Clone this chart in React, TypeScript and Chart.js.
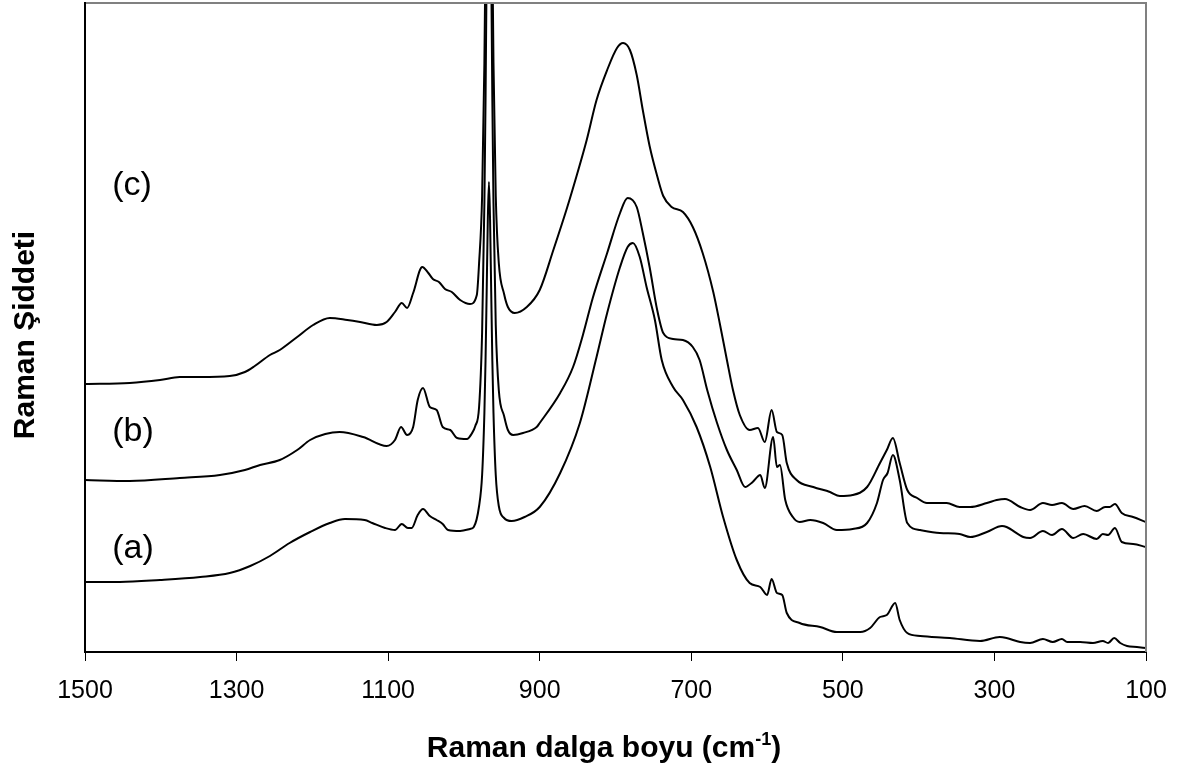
import React, { useEffect, useRef } from "react";
import { Chart, registerables } from "chart.js";

Chart.register(...registerables);

const FONT = '"Liberation Sans", Arial, Helvetica, sans-serif';

// X tick values (cm-1), axis runs from 1500 (left) to 100 (right)
const tickValues = [1500, 1300, 1100, 900, 700, 500, 300, 100];

// Spectrum (a)
const waveA = [
  1500, 1454, 1401, 1348, 1309, 1282, 1256, 1230, 1203, 1177, 1157, 1131, 1121, 1104, 1091, 1082,
  1074, 1069, 1061, 1054, 1045, 1036, 1028, 1021, 1005, 992, 987, 980, 976, 973, 971.5, 970,
  968.5, 967, 965.5, 964, 962.5, 961, 958, 954, 947, 937, 920, 900, 873, 847, 825, 811,
  794, 784, 777, 768, 759, 748, 739, 724, 711, 693, 675, 658, 640, 623, 609, 600,
  594, 587, 580, 574, 557, 530, 508, 477, 464, 451, 442, 431, 425, 415, 398, 359,
  319, 293, 284, 266, 253, 236, 223, 211, 204, 187, 170, 157, 150, 142, 134, 125,
  112, 100,
];
const intensityA = [
  70, 70, 72, 75, 79, 86, 96, 109, 120, 129, 133, 132, 129, 124, 122, 128,
  124, 124, 137, 143, 136, 132, 128, 122, 121, 123, 125, 146, 177, 239, 291, 360,
  432, 470, 432, 360, 291, 239, 177, 146, 134, 131, 135, 145, 179, 229, 295, 339,
  385, 405, 409, 395, 365, 332, 292, 265, 252, 225, 185, 135, 92, 69, 65, 57,
  73, 59, 57, 39, 29, 25, 20, 20, 24, 35, 37, 49, 32, 19, 16, 14,
  11, 15, 14, 10, 9, 13, 10, 13, 10, 10, 9, 11, 9, 14, 9, 6,
  5, 4,
];

// Spectrum (b)
const waveB = [
  1500, 1441, 1375, 1322, 1289, 1269, 1243, 1220, 1203, 1183, 1164, 1133, 1102, 1091, 1083, 1075,
  1067, 1061, 1054, 1045, 1036, 1028, 1018, 1009, 996, 990, 985, 980, 976, 973, 971.5, 970,
  968.5, 967, 965.5, 964, 962.5, 961, 958, 954, 947, 942, 935, 922, 904, 900, 873, 856,
  843, 830, 811, 794, 784, 772, 764, 755, 745, 737, 724, 711, 698, 689, 679, 666,
  653, 640, 629, 619, 609, 603, 592, 587, 583, 576, 566, 557, 543, 526, 508, 487,
  468, 455, 447, 441, 434, 425, 415, 398, 372, 346, 332, 310, 290, 284, 262, 253,
  236, 224, 211, 196, 183, 165, 157, 150, 141, 132, 117, 100,
];
const intensityB = [
  172, 171, 174, 177, 182, 187, 192, 202, 212, 218, 220, 215, 206, 212, 225, 217,
  225, 252, 264, 245, 242, 225, 222, 214, 213, 218, 226, 245, 320, 449, 551, 687,
  830, 905, 830, 687, 551, 449, 327, 262, 236, 222, 217, 219, 225, 229, 259, 285,
  317, 354, 399, 439, 454, 445, 419, 385, 342, 319, 313, 312, 305, 292, 262, 229,
  202, 182, 165, 170, 177, 164, 215, 185, 187, 152, 135, 130, 132, 129, 122, 123,
  129, 149, 172, 179, 197, 172, 129, 122, 119, 118, 115, 120, 126, 125, 115, 114,
  121, 117, 123, 114, 118, 113, 118, 117, 124, 110, 108, 105,
];

// Spectrum (c)
const waveC = [
  1500, 1441, 1401, 1375, 1348, 1309, 1289, 1276, 1256, 1243, 1220, 1199, 1177, 1154, 1137, 1115,
  1102, 1091, 1082, 1075, 1067, 1055, 1047, 1041, 1033, 1025, 1016, 1005, 992, 983, 980, 976,
  973, 971.5, 970, 968.5, 967, 965.5, 964, 962.5, 961, 958, 954, 947, 942, 933, 917, 900,
  882, 864, 851, 838, 825, 811, 798, 790, 781, 772, 764, 755, 745, 737, 726, 711,
  698, 685, 671, 662, 653, 645, 636, 623, 612, 603, 594, 587, 580, 574, 561, 539,
  517, 504, 487, 468, 451, 442, 434, 425, 415, 402, 389, 363, 346, 332, 310, 297,
  286, 266, 253, 236, 224, 211, 196, 181, 165, 154, 148, 141, 132, 117, 100,
];
const intensityC = [
  268, 269, 272, 275, 275, 276, 280, 286, 297, 302, 315, 327, 334, 332, 330, 327,
  330, 340, 349, 344, 359, 385, 379, 373, 370, 363, 360, 352, 348, 357, 389, 456,
  589, 700, 848, 1004, 1085, 1004, 848, 700, 589, 456, 389, 358, 345, 339, 345, 362,
  402, 444, 477, 512, 552, 582, 604, 609, 602, 577, 542, 506, 476, 456, 445, 440,
  425, 399, 360, 327, 292, 262, 237, 222, 224, 210, 242, 220, 217, 189, 172, 165,
  160, 156, 157, 165, 189, 202, 214, 189, 162, 154, 149, 149, 145, 145, 149, 152,
  153, 145, 142, 149, 147, 149, 143, 146, 141, 145, 145, 148, 139, 135, 130,
];

// Curve labels and where they sit (data coordinates)
const curveLabels = ["(a)", "(b)", "(c)"];
const curveLabelWave = [1464, 1464, 1464];
const curveLabelLevel = [103, 220, 466];

const xTitleMain = "Raman dalga boyu (cm";
const xTitleSup = "-1";
const xTitleEnd = ")";
const yTitle = "Raman Şiddeti";

const toPoints = (xs: number[], ys: number[]) => xs.map((x, i) => ({ x, y: ys[i] }));

const decorPlugin = {
  id: "decor",
  afterDraw(chart: any) {
    const { ctx, chartArea: ca, scales } = chart;
    ctx.save();
    // frame: top/right grey, left black
    ctx.lineWidth = 2;
    ctx.strokeStyle = "#808080";
    ctx.beginPath();
    ctx.moveTo(ca.left, ca.top);
    ctx.lineTo(ca.right, ca.top);
    ctx.lineTo(ca.right, ca.bottom);
    ctx.stroke();
    ctx.strokeStyle = "#000";
    ctx.beginPath();
    ctx.moveTo(ca.left, ca.top - 1);
    ctx.lineTo(ca.left, ca.bottom);
    ctx.stroke();

    // curve labels
    ctx.fillStyle = "#000";
    ctx.font = `34px ${FONT}`;
    ctx.textAlign = "left";
    ctx.textBaseline = "middle";
    curveLabels.forEach((t, i) => {
      ctx.fillText(t, scales.x.getPixelForValue(curveLabelWave[i]), scales.y.getPixelForValue(curveLabelLevel[i]));
    });

    // x title with superscript
    ctx.textBaseline = "alphabetic";
    const mainFont = `bold 30px ${FONT}`;
    const supFont = `bold 18px ${FONT}`;
    ctx.font = mainFont;
    const w1 = ctx.measureText(xTitleMain).width;
    const w3 = ctx.measureText(xTitleEnd).width;
    ctx.font = supFont;
    const w2 = ctx.measureText(xTitleSup).width;
    const total = w1 + w2 + w3;
    const cx = 604;
    const base = 757;
    const x0 = cx - total / 2;
    ctx.font = mainFont;
    ctx.fillText(xTitleMain, x0, base);
    ctx.font = supFont;
    ctx.fillText(xTitleSup, x0 + w1, base - 12);
    ctx.font = mainFont;
    ctx.fillText(xTitleEnd, x0 + w1 + w2, base);

    // y title
    ctx.save();
    ctx.translate(34, 335);
    ctx.rotate(-Math.PI / 2);
    ctx.font = mainFont;
    ctx.textAlign = "center";
    ctx.fillText(yTitle, 0, 0);
    ctx.restore();

    ctx.restore();
  },
};

export default function App() {
  const canvasRef = useRef<HTMLCanvasElement | null>(null);

  useEffect(() => {
    const canvas = canvasRef.current;
    if (!canvas) return;
    const lineStyle = {
      borderColor: "#000",
      borderWidth: 2,
      pointRadius: 0,
      fill: false,
      cubicInterpolationMode: "monotone" as const,
    };
    const chart = new Chart(canvas, {
      type: "line",
      data: {
        datasets: [
          { label: "(a)", data: toPoints(waveA, intensityA), ...lineStyle },
          { label: "(b)", data: toPoints(waveB, intensityB), ...lineStyle },
          { label: "(c)", data: toPoints(waveC, intensityC), ...lineStyle },
        ],
      },
      options: {
        animation: false,
        responsive: false,
        devicePixelRatio: 1,
        layout: { padding: { left: 85, right: 44, top: 3, bottom: 0 } },
        plugins: { legend: { display: false }, tooltip: { enabled: false } },
        scales: {
          x: {
            type: "linear",
            reverse: true,
            min: 100,
            max: 1500,
            afterBuildTicks: (axis: any) => {
              axis.ticks = tickValues.map((v) => ({ value: v }));
            },
            afterFit: (axis: any) => {
              axis.height = 122;
            },
            ticks: {
              autoSkip: false,
              maxRotation: 0,
              padding: 15,
              color: "#000",
              font: { family: FONT, size: 25 },
              callback: (v: any) => String(v),
            },
            grid: {
              display: true,
              drawOnChartArea: false,
              drawTicks: true,
              tickLength: 9,
              color: "#000",
              lineWidth: 1,
            },
            border: { display: true, color: "#000", width: 2 },
          },
          y: {
            type: "linear",
            display: false,
            min: 0,
            max: 649,
          },
        },
      },
      plugins: [decorPlugin],
    });
    return () => chart.destroy();
  }, []);

  return (
    <div style={{ position: "fixed", left: 0, top: 0, width: 1190, height: 774, background: "#fff" }}>
      <canvas ref={canvasRef} width={1190} height={774} style={{ display: "block" }} />
    </div>
  );
}
